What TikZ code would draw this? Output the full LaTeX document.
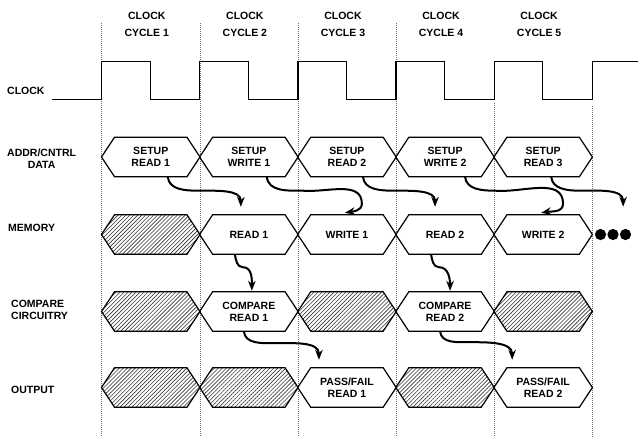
\documentclass[tikz,border=0pt]{standalone}
\usepackage{fontspec}
\setmainfont{Liberation Sans}
\usetikzlibrary{arrows.meta,patterns.meta}
\newcommand{\labfont}{\fontsize{10.5}{12}\selectfont\bfseries}
\newcommand{\headfont}{\fontsize{10.5}{17}\selectfont\bfseries}
\tikzset{
 every node/.append style={font=\labfont,text=black,inner sep=0pt},
 cell/.style={minimum width=98.1pt,minimum height=39pt,align=center},
 hexline/.style={draw=black,line width=1.2pt,line join=miter},
 hatch/.style={hexline,pattern={Lines[angle=45,distance=2.8pt,line width=.6pt]},pattern color=black!80},
 plain/.style={hexline},
 head/.style={font=\headfont,align=center},
 rowname/.style={anchor=west},
 grid/.style={draw=black!55,line width=.5pt,dash pattern=on 1pt off 1pt},
 wave/.style={draw=black,line width=1.2pt,line join=miter},
 flow/.style={-{Stealth[length=10pt,width=7.5pt]},draw=black,line width=2pt},
}
\newcommand{\hexcell}[5]{%
 \node[cell] (#1) at ({101.7+98.1*(#2-.5)},#3) {#5};
 \draw[#4] (#1.west) -- ([xshift=13pt]#1.north west) -- ([xshift=-13pt]#1.north east) -- (#1.east)
   -- ([xshift=-13pt]#1.south east) -- ([xshift=13pt]#1.south west) -- cycle;}

\begin{document}
\begin{tikzpicture}[x=1pt,y=-1pt]

\useasboundingbox (0,0) rectangle (638,440);

\foreach \k in {0,...,3} \draw[grid] ({101.7+98.1*\k},23) -- ++(0,414);
\draw[grid] (494.1,103) -- (494.1,437);
\draw[grid] (592.2,106) -- (592.2,437);

\foreach \k in {1,...,5} \node[head] (hd\k) at ({101.7+98.1*(\k-.5)-4},24.5) {CLOCK\\CYCLE \k};

\node[rowname] (clk) at (7,91.3) {CLOCK};
\node[rowname,align=center] (addr) at (7,159) {ADDR/CNTRL\\DATA};
\node[rowname] (mem) at (8,227.5) {MEMORY};
\node[rowname,align=left] (cmp) at (11,309.5) {COMPARE\\CIRCUITRY};
\node[rowname] (out) at (11,390) {OUTPUT};

\draw[wave] (51.7,99.3) \foreach \k in {0,...,4} { -- ({101.7+98.1*\k},99.3) -- ++(0,-38) -- ++(48.6,0) -- ++(0,38) }
  -- (592.2,99.3) -- (592.2,61.3) -- (638,61.3);

\hexcell{a1}{1}{157}{plain}{SETUP\\READ 1}
\hexcell{a2}{2}{157}{plain}{SETUP\\WRITE 1}
\hexcell{a3}{3}{157}{plain}{SETUP\\READ 2}
\hexcell{a4}{4}{157}{plain}{SETUP\\WRITE 2}
\hexcell{a5}{5}{157}{plain}{SETUP\\READ 3}

\hexcell{m1}{1}{234.5}{hatch}{}
\hexcell{m2}{2}{234.5}{plain}{READ 1}
\hexcell{m3}{3}{234.5}{plain}{WRITE 1}
\hexcell{m4}{4}{234.5}{plain}{READ 2}
\hexcell{m5}{5}{234.5}{plain}{WRITE 2}
\foreach \k in {0,1,2} \fill (600.5+12.5*\k,234.5) circle (5.6pt);

\hexcell{c1}{1}{311.5}{hatch}{}
\hexcell{c2}{2}{311.5}{plain}{COMPARE\\READ 1}
\hexcell{c3}{3}{311.5}{hatch}{}
\hexcell{c4}{4}{311.5}{plain}{COMPARE\\READ 2}
\hexcell{c5}{5}{311.5}{hatch}{}

\hexcell{o1}{1}{387.5}{hatch}{}
\hexcell{o2}{2}{387.5}{hatch}{}
\hexcell{o3}{3}{387.5}{plain}{PASS/FAIL\\READ 1}
\hexcell{o4}{4}{387.5}{hatch}{}
\hexcell{o5}{5}{387.5}{plain}{PASS/FAIL\\READ 2}

\draw[flow] ([xshift=17pt]a1.south) to[out=-85,in=180] ++(32,14) to[out=0,in=90] ([xshift=-8pt,yshift=8pt]m2.north);
\draw[flow] ([xshift=18pt]a2.south) to[out=-85,in=180] ++(36,14) to[out=-5,in=90] ++(59,13) to[out=-90,in=10] ([xshift=-2pt,yshift=2pt]m3.north);
\draw[flow] ([xshift=16pt]a3.south) to[out=-85,in=180] ++(32,14) to[out=0,in=90] ([xshift=-10pt,yshift=8pt]m4.north);
\draw[flow] ([xshift=20pt]a4.south) to[out=-85,in=180] ++(30,14) to[out=-5,in=90] ++(68,13) to[out=-90,in=10] ([xshift=-2pt,yshift=2pt]m5.north);
\draw[flow] ([xshift=8pt]a5.south) to[out=-85,in=180] ++(29,14) to[out=0,in=90] ++(43,16);

\draw[flow] ([xshift=-14pt]m2.south) to[out=-80,in=180] ++(8,13) to[out=0,in=90] ([xshift=3pt,yshift=1pt]c2.north);
\draw[flow] ([xshift=-14pt]m4.south) to[out=-80,in=180] ++(8,13) to[out=0,in=90] ([xshift=5pt,yshift=1pt]c4.north);

\draw[flow] ([xshift=-5pt]c2.south) to[out=-85,in=180] ++(31,12) to[out=0,in=90] ([xshift=-28pt,yshift=8pt]o3.north);
\draw[flow] ([xshift=-5pt]c4.south) to[out=-85,in=180] ++(30,11) to[out=0,in=90] ([xshift=-31pt,yshift=8pt]o5.north);

\end{tikzpicture}
\end{document}
